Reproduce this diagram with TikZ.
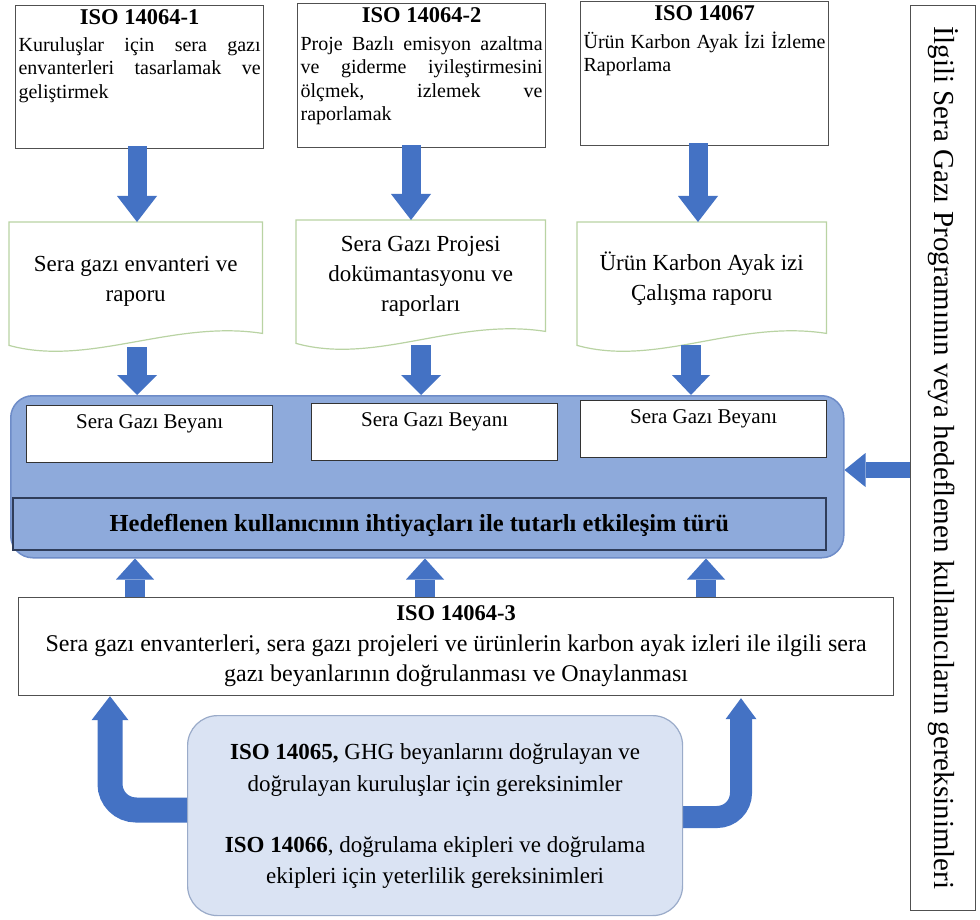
\documentclass[tikz,border=0pt]{standalone}
\usepackage{fontspec}
\setmainfont{Liberation Serif}
\usetikzlibrary{calc}
\definecolor{ablue}{HTML}{4472C4}
\definecolor{bigfill}{HTML}{8EAADB}
\definecolor{bigline}{HTML}{6E8CC8}
\definecolor{barline}{HTML}{2F3D5A}
\definecolor{botfill}{HTML}{DAE3F3}
\definecolor{botline}{HTML}{9AABC9}
\definecolor{docline}{HTML}{B9D3A3}
\definecolor{boxline}{HTML}{505050}
\pgfdeclarelayer{bg}
\pgfsetlayers{bg,main}
% block arrow: #1 start, #2 tip, #3 shaft width, #4 half head width, #5 head length
\newcommand{\blkarrow}[5]{%
  \path ($(#2)!#5pt!(#1)$) coordinate (hb);
  \draw[ablue, line width=#3pt] (#1) -- (hb);
  \fill[ablue] (#2) -- ($(hb)!#4pt!90:(#2)$) -- ($(hb)!#4pt!-90:(#2)$) -- cycle;
}
\begin{document}
\begin{tikzpicture}[x=1pt,y=-1pt,
  topbox/.style={draw=boxline, line width=1.2pt, fill=white, inner sep=0pt, anchor=north west},
  headtxt/.style={font=\fontsize{22.5}{26}\selectfont\bfseries, inner sep=0pt, anchor=base},
  bodytxt/.style={font=\fontsize{20}{23.5}\selectfont, text width=242pt, align=justify, inner sep=0pt, anchor=north},
  docnode/.style={inner sep=0pt, anchor=north west},
  doctxt/.style={font=\fontsize{23}{30}\selectfont, align=center, inner sep=0pt, anchor=north},
  sgb/.style={draw=black!80, line width=1.2pt, fill=white, inner sep=0pt, anchor=north west, minimum width=246pt, minimum height=57pt},
  sgbtxt/.style={font=\fontsize{21}{24}\selectfont, inner sep=0pt, anchor=base},
  bottxt/.style={font=\fontsize{23}{26}\selectfont, inner sep=0pt, anchor=base},
  ]
\begin{pgfonlayer}{bg}
\fill[white] (0,0) rectangle (980,920);
\end{pgfonlayer}
\useasboundingbox (0,0) rectangle (980,920);

% top boxes
\node[topbox, minimum width=248pt, minimum height=143pt] (iso1) at (15,5) {};
\node[topbox, minimum width=248pt, minimum height=144pt] (iso2) at (297,3) {};
\node[topbox, minimum width=248pt, minimum height=144pt] (iso3) at (580,1) {};
\node[headtxt] (iso1h) at ($(iso1.north)+(0,20)$) {ISO 14064-1};
\node[headtxt] (iso2h) at ($(iso2.north)+(0,20)$) {ISO 14064-2};
\node[headtxt] (iso3h) at ($(iso3.north)+(0,20)$) {ISO 14067};
\node[bodytxt] (iso1b) at ($(iso1.north)+(0,26)$) {\rule{0pt}{20pt}Kuruluşlar için sera gazı\linebreak envanterleri tasarlamak ve\linebreak geliştirmek};
\node[bodytxt] (iso2b) at ($(iso2.north)+(0,27)$) {\rule{0pt}{20pt}Proje Bazlı emisyon azaltma\linebreak ve giderme iyileştirmesini\linebreak ölçmek, izlemek ve\linebreak raporlamak};
\node[bodytxt] (iso3b) at ($(iso3.north)+(0,27)$) {\rule{0pt}{20pt}Ürün Karbon Ayak İzi İzleme\linebreak Raporlama};

% document shapes
\node[docnode, minimum width=253pt, minimum height=125pt] (d1) at (9,222) {};
\node[docnode, minimum width=249pt, minimum height=125pt] (d2) at (296,220) {};
\node[docnode, minimum width=249pt, minimum height=125pt] (d3) at (577,222) {};
\foreach \d in {d1,d2,d3}{
  \draw[docline, line width=1.2pt, fill=white] (\d.north west) -- (\d.north east) -- ($(\d.south east)+(0,-14)$)
    .. controls ($(\d.south east)+(-90,-28)$) and ($(\d.south west)+(80,20)$) .. ($(\d.south west)+(0,-2)$) -- cycle;
}
\node[doctxt] (d1t) at ($(d1.north)+(0,27)$) {\rule{0pt}{22pt}Sera gazı envanteri ve\\raporu};
\node[doctxt] (d2t) at ($(d2.north)+(0,9)$) {\rule{0pt}{22pt}Sera Gazı Projesi\\dokümantasyonu ve\\raporları};
\node[doctxt] (d3t) at ($(d3.north)+(0,26)$) {\rule{0pt}{22pt}Ürün Karbon Ayak izi\\Çalışma raporu};

% big box
\node[draw=bigline, fill=bigfill, line width=1.5pt, rounded corners=22pt, minimum width=833pt, minimum height=162pt, anchor=north west] (big) at (10,395) {};
\node[sgb] (g1) at (26,405) {};
\node[sgb] (g2) at (311,403) {};
\node[sgb] (g3) at (580,400) {};
\node[sgbtxt] (g1t) at ($(g1.north)+(0,23)$) {Sera Gazı Beyanı};
\node[sgbtxt] (g2t) at ($(g2.north)+(0,23)$) {Sera Gazı Beyanı};
\node[sgbtxt] (g3t) at ($(g3.north)+(0,23)$) {Sera Gazı Beyanı};
\node[draw=barline, fill=bigfill, line width=1.5pt, minimum width=813pt, minimum height=52pt, anchor=north west, inner sep=0pt] (bar) at (12,497) {};
\node[font=\fontsize{24.5}{27}\selectfont\bfseries, inner sep=0pt, anchor=base] (bart) at ($(bar.north)+(0,34)$) {Hedeflenen kullanıcının ihtiyaçları ile tutarlı etkileşim türü};

% right box
\node[draw=boxline, line width=1.2pt, minimum width=65pt, minimum height=905pt, anchor=north west, inner sep=0pt] (rbox) at (910,5) {};
\node[rotate=-90, font=\fontsize{29}{32}\selectfont, inner sep=0pt] (rt) at (rbox.center) {İlgili Sera Gazı Programının veya hedeflenen kullanıcıların gereksinimleri};

% ISO 14064-3 box
\node[topbox, minimum width=875pt, minimum height=98pt] (v3) at (18,597) {};
\node[headtxt] (v3h) at ($(v3.north)+(0,23)$) {ISO 14064-3};
\node[font=\fontsize{24}{30}\selectfont, align=center, inner sep=0pt, anchor=north] (v3b) at ($(v3.north)+(0,32)$) {\rule{0pt}{22pt}Sera gazı envanterleri, sera gazı projeleri ve ürünlerin karbon ayak izleri ile ilgili sera\\gazı beyanlarının doğrulanması ve Onaylanması};

% bottom box
\node[draw=botline, fill=botfill, line width=1.2pt, rounded corners=30pt, minimum width=495pt, minimum height=200pt, anchor=north west, inner sep=0pt] (bot) at (187,715) {};
\node[bottxt] (b1) at ($(bot.north)+(0,44)$) {\textbf{ISO 14065,} GHG beyanlarını doğrulayan ve};
\node[bottxt] (b2) at ($(bot.north)+(0,76)$) {doğrulayan kuruluşlar için gereksinimler};
\node[bottxt] (b3) at ($(bot.north)+(0,137)$) {\textbf{ISO 14066}, doğrulama ekipleri ve doğrulama};
\node[bottxt] (b4) at ($(bot.north)+(0,168)$) {ekipleri için yeterlilik gereksinimleri};

% top arrows
\coordinate (ax1) at (137,0);
\coordinate (ax2) at (411,0);
\coordinate (ax3) at (698,0);
\coordinate (t1s) at ($(ax1 |- iso1.south)+(0,-3)$);
\coordinate (t1e) at (ax1 |- d1.north);
\coordinate (t2s) at ($(ax2 |- iso2.south)+(0,-3)$);
\coordinate (t2e) at (ax2 |- d2.north);
\coordinate (t3s) at ($(ax3 |- iso3.south)+(0,-3)$);
\coordinate (t3e) at (ax3 |- d3.north);
\blkarrow{t1s}{t1e}{19}{20}{26}
\blkarrow{t2s}{t2e}{19}{20}{26}
\blkarrow{t3s}{t3e}{19}{20}{26}

% arrows into big box
\coordinate (mx1) at (137,0);
\coordinate (mx2) at (421,0);
\coordinate (mx3) at (691,0);
\coordinate (m1s) at (mx1 |- d1.south);
\coordinate (m1e) at (mx1 |- big.north);
\coordinate (m2s) at (mx2 |- d2.south);
\coordinate (m2e) at (mx2 |- big.north);
\coordinate (m3s) at ($(mx3 |- d3.south)+(0,-2)$);
\coordinate (m3e) at (mx3 |- big.north);
\blkarrow{m1s}{m1e}{20}{20}{20}
\blkarrow{m2s}{m2e}{20}{20}{20}
\blkarrow{m3s}{m3e}{20}{19}{20}

% up arrows
\coordinate (ux1) at (135,0);
\coordinate (ux2) at (425,0);
\coordinate (ux3) at (706,0);
\coordinate (u1s) at (ux1 |- v3.north);
\coordinate (u1e) at (ux1 |- big.south);
\coordinate (u2s) at (ux2 |- v3.north);
\coordinate (u2e) at (ux2 |- big.south);
\coordinate (u3s) at (ux3 |- v3.north);
\coordinate (u3e) at (ux3 |- big.south);
\blkarrow{u1s}{u1e}{20}{19}{21}
\blkarrow{u2s}{u2e}{20}{19}{21}
\blkarrow{u3s}{u3e}{20}{19}{21}

% left arrow from right box
\coordinate (ly) at (0,470);
\coordinate (las) at (rbox.west |- ly);
\coordinate (lae) at (big.east |- ly);
\blkarrow{las}{lae}{16}{17}{21}

% U arrows
\begin{pgfonlayer}{bg}
\coordinate (uly) at (110,810);
\coordinate (ultip) at (uly |- v3.south);
\coordinate (ulbase) at ($(ultip)+(0,24)$);
\draw[ablue, line width=25pt, rounded corners=26pt] (bot.west |- uly) -| (ulbase);
\fill[ablue] (ultip) -- ($(ulbase)+(-18.5,0)$) -- ($(ulbase)+(18.5,0)$) -- cycle;
\coordinate (ury) at (741,817);
\coordinate (urtip) at ($(ury |- v3.south)+(0,2)$);
\coordinate (urbase) at ($(urtip)+(0,21)$);
\draw[ablue, line width=22pt, rounded corners=24pt] (bot.east |- ury) -| (urbase);
\fill[ablue] (urtip) -- ($(urbase)+(-15.5,0)$) -- ($(urbase)+(15.5,0)$) -- cycle;
\end{pgfonlayer}
\end{tikzpicture}
\end{document}
